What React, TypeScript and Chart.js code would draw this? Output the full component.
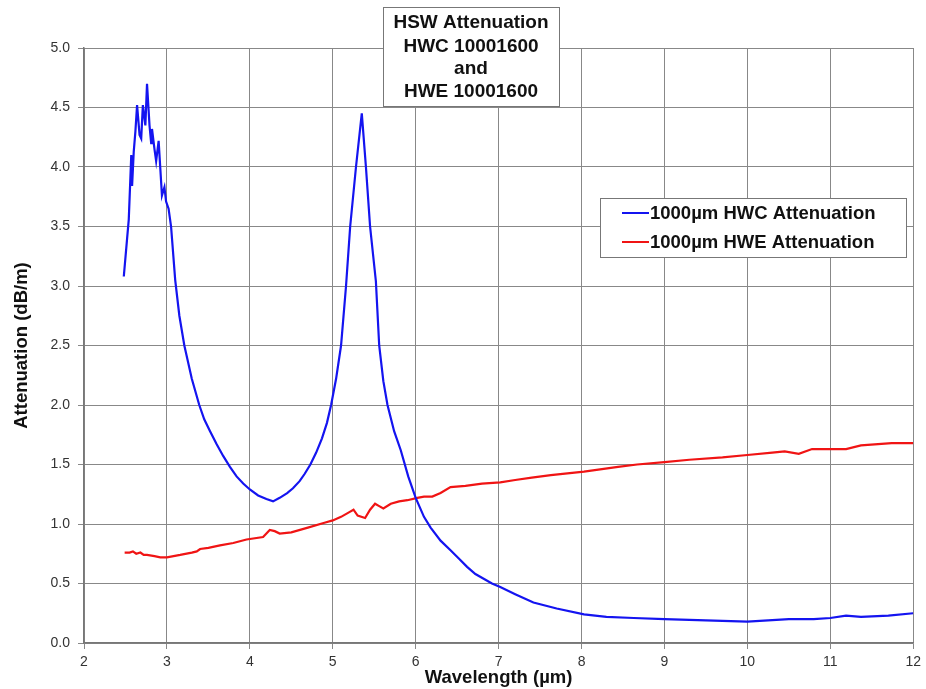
import React, { useEffect, useRef } from "react";
import { Chart, registerables } from "chart.js";

Chart.register(...registerables);

const hwcWavelength = [
  2.48, 2.52, 2.54, 2.57, 2.58, 2.6, 2.62, 2.64, 2.67, 2.69, 2.71, 2.74, 2.76, 2.79, 2.81, 2.82, 2.85, 2.87,
  2.9, 2.94, 2.97, 2.99, 3.02, 3.05, 3.1, 3.15, 3.21, 3.3, 3.39, 3.45, 3.52, 3.6, 3.68, 3.76, 3.84, 3.92, 4.0,
  4.1, 4.2, 4.28, 4.36, 4.45, 4.52, 4.6, 4.66, 4.73, 4.8, 4.87, 4.93, 4.98, 5.04, 5.1, 5.16, 5.21, 5.28, 5.35,
  5.4, 5.45, 5.52, 5.56, 5.61, 5.66, 5.74, 5.82, 5.91, 6.0, 6.1, 6.18, 6.3, 6.42, 6.52, 6.62, 6.72, 6.82, 6.92,
  7.02, 7.2, 7.42, 7.7, 8.03, 8.3, 8.63, 9.0, 9.5, 10.0, 10.5, 10.8, 11.0, 11.19, 11.37, 11.7, 12.0,
];
const hwcAttenuation = [
  3.08, 3.4, 3.56, 4.1, 3.84, 4.13, 4.3, 4.52, 4.27, 4.24, 4.52, 4.35, 4.7, 4.35, 4.2, 4.32, 4.15, 4.05,
  4.22, 3.76, 3.83, 3.71, 3.65, 3.5, 3.05, 2.75, 2.5, 2.22, 2.0, 1.88, 1.78, 1.67, 1.57, 1.48, 1.4, 1.34, 1.29,
  1.24, 1.21, 1.19, 1.22, 1.26, 1.3, 1.36, 1.42, 1.5, 1.6, 1.72, 1.85, 2.0, 2.22, 2.5, 3.0, 3.5, 4.0, 4.45,
  4.0, 3.5, 3.04, 2.5, 2.2, 2.0, 1.78, 1.62, 1.4, 1.22, 1.06, 0.97, 0.86, 0.78, 0.71, 0.64, 0.58, 0.54, 0.5,
  0.47, 0.41, 0.34, 0.29, 0.24, 0.22, 0.21, 0.2, 0.19, 0.18, 0.2, 0.2, 0.21, 0.23, 0.22, 0.23, 0.25,
];

const hweWavelength = [
  2.49, 2.55, 2.59, 2.63, 2.68, 2.72, 2.76, 2.85, 2.92, 3.0, 3.16, 3.3, 3.36, 3.4, 3.5, 3.64, 3.8, 3.96,
  4.16, 4.2, 4.24, 4.3, 4.36, 4.5, 4.7, 4.9, 5.0, 5.1, 5.2, 5.25, 5.3, 5.39, 5.45, 5.51, 5.56, 5.61, 5.7,
  5.8, 5.9, 6.02, 6.1, 6.2, 6.3, 6.42, 6.6, 6.8, 7.02, 7.2, 7.4, 7.63, 8.03, 8.44, 8.67, 9.0, 9.3, 9.7,
  10.0, 10.3, 10.45, 10.62, 10.78, 11.0, 11.19, 11.37, 11.74, 12.0,
];
const hweAttenuation = [
  0.76, 0.76, 0.77, 0.75, 0.76, 0.74, 0.74, 0.73, 0.72, 0.72, 0.74, 0.76, 0.77, 0.79, 0.8, 0.82, 0.84, 0.87,
  0.89, 0.92, 0.95, 0.94, 0.92, 0.93, 0.97, 1.01, 1.03, 1.06, 1.1, 1.12, 1.07, 1.05, 1.12, 1.17, 1.15, 1.13, 1.17,
  1.19, 1.2, 1.22, 1.23, 1.23, 1.26, 1.31, 1.32, 1.34, 1.35, 1.37, 1.39, 1.41, 1.44, 1.48, 1.5, 1.52, 1.54, 1.56,
  1.58, 1.6, 1.61, 1.59, 1.63, 1.63, 1.63, 1.66, 1.68, 1.68,
];

const titleLines = ["HSW Attenuation", "HWC 10001600", "and", "HWE 10001600"];
const seriesNames = ["1000µm HWC Attenuation", "1000µm HWE Attenuation"];
const seriesColors = ["#1414f0", "#f01414"];
const xTitle = "Wavelength (µm)";
const yTitle = "Attenuation (dB/m)";

const FONT = "'Liberation Sans', Arial, sans-serif";

const decorPlugin = {
  id: "decor",
  beforeDraw(chart: any) {
    const ctx = chart.ctx;
    ctx.save();
    ctx.fillStyle = "#ffffff";
    ctx.fillRect(0, 0, chart.width, chart.height);
    ctx.restore();
  },
  afterDraw(chart: any) {
    const ctx = chart.ctx;
    ctx.save();
    // title box
    const bx = 383, by = 7, bw = 176, bh = 99;
    ctx.fillStyle = "#ffffff";
    ctx.fillRect(bx, by, bw, bh);
    ctx.strokeStyle = "#777777";
    ctx.lineWidth = 1;
    ctx.strokeRect(bx + 0.5, by + 0.5, bw, bh);
    ctx.fillStyle = "#111111";
    ctx.font = `bold 19px ${FONT}`;
    ctx.textAlign = "center";
    ctx.textBaseline = "middle";
    const ys = [23, 47, 69, 92];
    titleLines.forEach((t, i) => ctx.fillText(t, bx + bw / 2, ys[i]));

    // legend box
    const lx = 600, ly = 198, lw = 306, lh = 59;
    ctx.fillStyle = "#ffffff";
    ctx.fillRect(lx, ly, lw, lh);
    ctx.strokeStyle = "#777777";
    ctx.strokeRect(lx + 0.5, ly + 0.5, lw, lh);
    ctx.font = `bold 18.5px ${FONT}`;
    ctx.textAlign = "left";
    const lys = [213, 242];
    seriesNames.forEach((n, i) => {
      ctx.strokeStyle = seriesColors[i];
      ctx.lineWidth = 2;
      ctx.beginPath();
      ctx.moveTo(622, lys[i]);
      ctx.lineTo(649, lys[i]);
      ctx.stroke();
      ctx.fillStyle = "#111111";
      ctx.fillText(n, 650, lys[i] + 1);
    });
    ctx.restore();
  },
};

export default function App() {
  const ref = useRef<HTMLCanvasElement>(null);
  useEffect(() => {
    if (!ref.current) return;
    const chart = new Chart(ref.current, {
      type: "line",
      data: {
        datasets: [
          {
            label: seriesNames[0],
            data: hwcWavelength.map((x, i) => ({ x, y: hwcAttenuation[i] })),
            borderColor: seriesColors[0],
            borderWidth: 2.2,
            pointRadius: 0,
            tension: 0,
          },
          {
            label: seriesNames[1],
            data: hweWavelength.map((x, i) => ({ x, y: hweAttenuation[i] })),
            borderColor: seriesColors[1],
            borderWidth: 2.2,
            pointRadius: 0,
            tension: 0,
          },
        ],
      },
      options: {
        responsive: false,
        animation: false,
        devicePixelRatio: 1,
        layout: { padding: { left: 0, right: 12, top: 48, bottom: 0 } },
        plugins: { legend: { display: false }, tooltip: { enabled: false }, title: { display: false } },
        scales: {
          x: {
            type: "linear",
            min: 2,
            max: 12,
            ticks: {
              stepSize: 1,
              color: "#333333",
              font: { family: FONT, size: 14 },
              padding: 5,
              maxRotation: 0,
            },
            grid: { color: "#888888", lineWidth: 1, tickLength: 6 },
            border: { color: "#777777", width: 1.5 },
            title: {
              display: true,
              text: xTitle,
              color: "#111111",
              font: { family: FONT, size: 18.5, weight: "bold" },
              padding: { top: 0, bottom: 0 },
            },
            afterFit: (s: any) => {
              s.height = 46;
            },
          },
          y: {
            min: 0,
            max: 5,
            ticks: {
              stepSize: 0.5,
              color: "#333333",
              font: { family: FONT, size: 14 },
              padding: 8,
              callback: (v: any) => Number(v).toFixed(1),
            },
            grid: { color: "#888888", lineWidth: 1, tickLength: 6 },
            border: { color: "#777777", width: 1.5 },
            title: {
              display: true,
              text: yTitle,
              color: "#111111",
              font: { family: FONT, size: 18.5, weight: "bold" },
              padding: { top: 11, bottom: 0 },
            },
            afterFit: (s: any) => {
              s.width = 84;
            },
          },
        },
      },
      plugins: [decorPlugin],
    });
    return () => chart.destroy();
  }, []);
  return (
    <canvas
      ref={ref}
      width={926}
      height={689}
      style={{ position: "absolute", left: 0, top: 0, width: 926, height: 689 }}
    />
  );
}
